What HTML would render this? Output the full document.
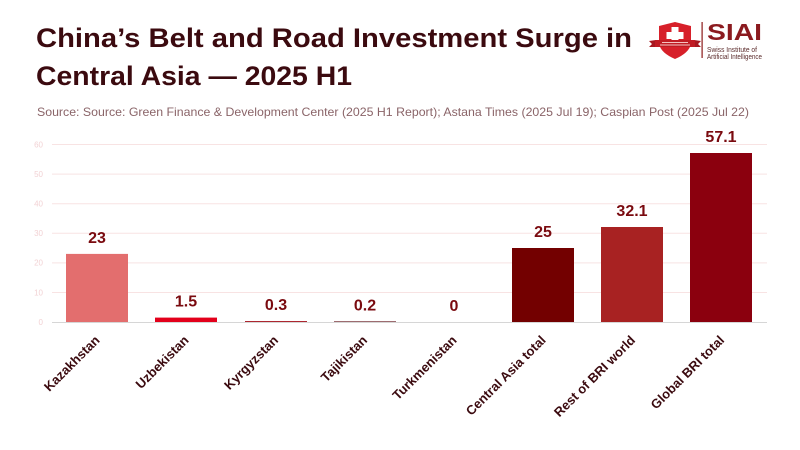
<!DOCTYPE html>
<html><head><meta charset="utf-8"><style>
html,body{margin:0;padding:0;background:#fff;}
svg{display:block;}
text{font-family:"Liberation Sans",sans-serif;}
</style></head><body>
<svg width="800" height="450" viewBox="0 0 800 450" xmlns="http://www.w3.org/2000/svg">
<rect width="800" height="450" fill="#fff"/>
<!-- Title -->
<text x="36" y="47" font-size="27" font-weight="bold" fill="#3b0a0f" textLength="596" lengthAdjust="spacingAndGlyphs">China’s Belt and Road Investment Surge in</text>
<text x="36" y="85" font-size="27" font-weight="bold" fill="#3b0a0f" textLength="316" lengthAdjust="spacingAndGlyphs">Central Asia — 2025 H1</text>
<text x="37" y="116" font-size="12" fill="#8a6468" textLength="712" lengthAdjust="spacingAndGlyphs">Source: Source: Green Finance &amp; Development Center (2025 H1 Report); Astana Times (2025 Jul 19); Caspian Post (2025 Jul 22)</text>

<!-- Logo -->
<g>
  <path d="M659,26 L675,22 L691,26 L691,44 Q689,53 675,59 Q661,53 659,44 Z" fill="#d7202a"/>
  <rect x="671.5" y="27" width="7" height="17" fill="#fff"/>
  <rect x="666.5" y="32" width="17" height="7" fill="#fff"/>
  <path d="M649,41 L656,40 L656,47 L649,47 L652,44 Z" fill="#a81820"/>
  <path d="M701,41 L694,40 L694,47 L701,47 L698,44 Z" fill="#a81820"/>
  <rect x="655" y="40" width="40" height="7" fill="#c01c24"/>
  <rect x="662" y="42" width="26" height="1" fill="#f4c0c0"/>
  <rect x="660" y="44.5" width="30" height="1" fill="#f4c0c0"/>
  <rect x="701.5" y="22" width="1.2" height="36" fill="#8b1a1a"/>
  <text x="707" y="40" font-size="23" font-weight="bold" fill="#8b1a1f" textLength="55" lengthAdjust="spacingAndGlyphs">SIAI</text>
  <text x="707" y="52" font-size="7" fill="#5a2a2a" textLength="50" lengthAdjust="spacingAndGlyphs">Swiss Institute of</text>
  <text x="707" y="59" font-size="7" fill="#5a2a2a" textLength="55" lengthAdjust="spacingAndGlyphs">Artificial Intelligence</text>
</g>

<!-- Gridlines -->
<g stroke="#f8e3e3" stroke-width="1">
  <line x1="52" x2="767" y1="144.5" y2="144.5"/>
  <line x1="52" x2="767" y1="174.1" y2="174.1"/>
  <line x1="52" x2="767" y1="203.7" y2="203.7"/>
  <line x1="52" x2="767" y1="233.3" y2="233.3"/>
  <line x1="52" x2="767" y1="262.9" y2="262.9"/>
  <line x1="52" x2="767" y1="292.5" y2="292.5"/>
</g>
<g font-size="8" fill="#f2d2d4" text-anchor="end">
  <text x="43" y="147.5">60</text>
  <text x="43" y="177">50</text>
  <text x="43" y="206.5">40</text>
  <text x="43" y="236">30</text>
  <text x="43" y="265.7">20</text>
  <text x="43" y="295.3">10</text>
  <text x="43" y="325">0</text>
</g>

<!-- Bars -->
<rect x="66" y="253.9" width="62" height="68.1" fill="#e36e6e"/>
<rect x="155" y="317.6" width="62" height="4.4" fill="#e3001b"/>
<rect x="245" y="321.1" width="62" height="0.9" fill="#a3101a"/>
<rect x="334" y="321.4" width="62" height="0.6" fill="#5c0a12"/>
<rect x="512" y="248" width="62" height="74" fill="#730000"/>
<rect x="601" y="227" width="62" height="95" fill="#a82222"/>
<rect x="690" y="153" width="62" height="169" fill="#8b000e"/>

<line x1="52" x2="767" y1="322.5" y2="322.5" stroke="#d6d6d6" stroke-width="1"/>

<!-- Value labels -->
<g font-size="16" font-weight="bold" fill="#7a0a0f" text-anchor="middle">
  <text x="97" y="243">23</text>
  <text x="186" y="306.5">1.5</text>
  <text x="276" y="310">0.3</text>
  <text x="365" y="310.5">0.2</text>
  <text x="454" y="311">0</text>
  <text x="543" y="237">25</text>
  <text x="632" y="216">32.1</text>
  <text x="721" y="142">57.1</text>
</g>

<!-- X labels -->
<g font-size="13" font-weight="bold" fill="#3b0a0f" text-anchor="end">
  <text transform="translate(100.5,341) rotate(-45)">Kazakhstan</text>
  <text transform="translate(189.5,341) rotate(-45)">Uzbekistan</text>
  <text transform="translate(279,341) rotate(-45)">Kyrgyzstan</text>
  <text transform="translate(368,341) rotate(-45)">Tajikistan</text>
  <text transform="translate(457.5,341) rotate(-45)">Turkmenistan</text>
  <text transform="translate(546.5,341) rotate(-45)">Central Asia total</text>
  <text transform="translate(636,341) rotate(-45)">Rest of BRI world</text>
  <text transform="translate(725,341) rotate(-45)">Global BRI total</text>
</g>
</svg>
</body></html>
